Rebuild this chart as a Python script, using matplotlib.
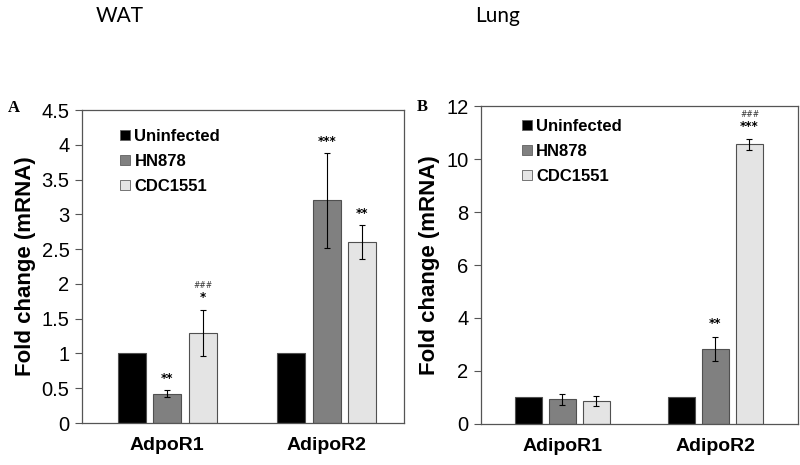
import matplotlib
matplotlib.use("Agg")
import matplotlib.pyplot as plt
import numpy as np
from matplotlib.lines import Line2D

plt.rcParams['font.family'] = ['Liberation Sans', 'DejaVu Sans']

series = ["Uninfected", "HN878", "CDC1551"]
colors = ["#000000", "#808080", "#e4e4e4"]

# Panel A (WAT)
cats_a = ["AdpoR1", "AdipoR2"]
vals_a = [[1.0, 1.0], [0.42, 3.20], [1.30, 2.60]]
errs_a = [[0.0, 0.0], [0.05, 0.68], [0.33, 0.24]]
stars_a = [["", ""], ["**", "***"], ["*", "**"]]
hash_a = [["", ""], ["", ""], ["###", ""]]
yticks_a = [0, 0.5, 1, 1.5, 2, 2.5, 3, 3.5, 4, 4.5]
yticklabels_a = ["0", "0.5", "1", "1.5", "2", "2.5", "3", "3.5", "4", "4.5"]

# Panel B (Lung)
cats_b = ["AdipoR1", "AdipoR2"]
vals_b = [[1.0, 1.0], [0.93, 2.82], [0.86, 10.55]]
errs_b = [[0.0, 0.0], [0.21, 0.46], [0.18, 0.20]]
stars_b = [["", ""], ["", "**"], ["", "***"]]
hash_b = [["", ""], ["", ""], ["", "###"]]
yticks_b = [0, 2, 4, 6, 8, 10, 12]
yticklabels_b = ["0", "2", "4", "6", "8", "10", "12"]

fig = plt.figure(figsize=(8, 4.65), dpi=100)
axA = fig.add_axes([0.1025, 0.0903, 0.4025, 0.6731])
axB = fig.add_axes([0.601, 0.0882, 0.3965, 0.6838])

width = 0.176
step = 0.223


def draw(ax, cats, vals, errs, stars, hashes, yticks, yticklabels, ymax, xlim,
         star_off, hash_off, legend_anchor):
    x = np.arange(len(cats))
    for i, s in enumerate(series):
        pos = x + (i - 1) * step
        ax.bar(pos, vals[i], width, color=colors[i], edgecolor="#505050",
               linewidth=0.8, label=s, zorder=2)
        e = np.array(errs[i])
        m = e > 0
        if m.any():
            ax.errorbar(pos[m], np.array(vals[i])[m], yerr=e[m], fmt="none",
                        ecolor="black", elinewidth=0.8, capsize=2.5,
                        capthick=0.8, zorder=3)
        for j in range(len(cats)):
            top = vals[i][j] + errs[i][j]
            if stars[i][j]:
                ax.text(pos[j], top + star_off, stars[i][j], ha="center",
                        va="bottom", fontsize=8.5, fontweight="bold",
                        family="DejaVu Sans")
            if hashes[i][j]:
                ax.text(pos[j], top + hash_off, hashes[i][j], ha="center",
                        va="bottom", fontsize=5.5, color="#333333",
                        family="DejaVu Sans")
    ax.set_xlim(*xlim)
    ax.set_ylim(0, ymax)
    ax.set_yticks(yticks)
    ax.set_yticklabels(yticklabels, fontsize=14.5)
    ax.set_xticks(x)
    ax.set_xticklabels(cats, fontsize=14, fontweight="bold")
    ax.tick_params(axis="x", length=0, pad=10)
    ax.tick_params(axis="y", direction="out", length=5, width=0.8,
                   color="#555555", pad=4)
    for sp in ax.spines.values():
        sp.set_color("#555555")
        sp.set_linewidth(0.9)
    ax.set_ylabel("Fold change (mRNA)", fontsize=16, fontweight="bold",
                  labelpad=4)
    handles = [Line2D([], [], marker="s", linestyle="none", markersize=7,
                      markerfacecolor=c, markeredgecolor="#606060",
                      markeredgewidth=0.6) for c in colors]
    ax.legend(handles, series, loc="upper left", bbox_to_anchor=legend_anchor,
              frameon=False, prop={"weight": "bold", "size": 12},
              handlelength=0.6, handletextpad=0.25, labelspacing=0.6,
              borderaxespad=0)


draw(axA, cats_a, vals_a, errs_a, stars_a, hash_a, yticks_a, yticklabels_a,
     4.5, (-0.535, 1.484), 0.08, 0.28, (0.098, 0.962))
draw(axB, cats_b, vals_b, errs_b, stars_b, hash_b, yticks_b, yticklabels_b,
     12, (-0.533, 1.54), 0.25, 0.75, (0.108, 0.98))

fig.text(0.010, 0.767, "A", fontsize=12, fontweight="bold",
         family="Liberation Serif", va="center")
fig.text(0.521, 0.77, "B", fontsize=12, fontweight="bold",
         family="Liberation Serif", va="center")
fig.text(0.120, 0.966, "WAT", fontsize=15, family="Lato", va="center")
fig.text(0.594, 0.966, "Lung", fontsize=15, family="Lato", va="center")

fig.savefig("out.png", dpi=100)
